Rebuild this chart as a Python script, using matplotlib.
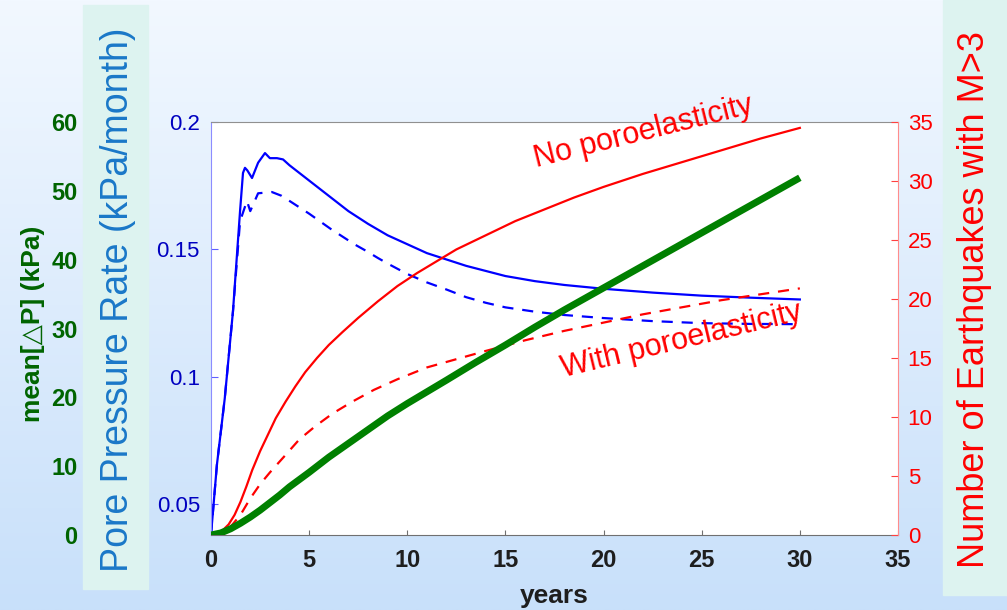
import numpy as np
import matplotlib
matplotlib.use("Agg")
import matplotlib.pyplot as plt
from matplotlib.patches import Rectangle

plt.rcParams['font.family'] = ['Liberation Sans', 'DejaVu Sans']

# pore pressure rate (kPa/month)
yr_rate_no = [0, 0.3, 0.7, 1.12, 1.48, 1.63, 1.73, 1.85, 2.09, 2.4, 2.75, 3.0, 3.36, 3.67, 4.0,
              4.5, 5.0, 6, 7, 8, 9, 10, 11, 12, 13, 14, 15, 16.5, 18, 20, 22.5, 25, 27.5, 30]
rate_no = [0.0378, 0.0653, 0.0914, 0.1257, 0.165, 0.180, 0.182, 0.181, 0.178, 0.184, 0.1878,
           0.1858, 0.1858, 0.1853, 0.183, 0.180, 0.177, 0.171, 0.165, 0.160, 0.1555, 0.152,
           0.1485, 0.146, 0.1435, 0.1415, 0.1395, 0.1375, 0.136, 0.1345, 0.133, 0.1318,
           0.131, 0.1303]
yr_rate_poro = [0, 0.3, 0.7, 1.12, 1.48, 1.83, 2.0, 2.4, 3.1, 3.6, 4.5, 5.0, 5.55, 6.1, 6.7,
                7.3, 7.9, 8.5, 9.0, 10, 11, 12, 13, 14, 15, 16.5, 18, 20, 22.5, 25, 27.5, 30]
rate_poro = [0.0378, 0.0653, 0.0914, 0.1257, 0.161, 0.169, 0.165, 0.172, 0.1725, 0.171, 0.1665,
             0.164, 0.161, 0.158, 0.155, 0.152, 0.1494, 0.1466, 0.1444, 0.1403, 0.137, 0.1342,
             0.1312, 0.129, 0.1272, 0.1255, 0.1242, 0.123, 0.1218, 0.121, 0.1207, 0.1206]

# cumulative number of M>3 earthquakes
yr_eq_no = [0, 0.3, 0.6, 0.9, 1.2, 1.5, 1.8, 2.1, 2.5, 2.9, 3.3, 3.8, 4.3, 4.8, 5.4, 6.0, 6.7,
            7.5, 8.5, 9.5, 10.5, 11.5, 12.5, 14, 15.5, 17, 18.5, 20, 22, 24, 26, 28, 30]
eq_no = [0, 0.1, 0.4, 0.9, 1.7, 2.8, 4.1, 5.5, 7.1, 8.5, 9.9, 11.3, 12.6, 13.8, 15.0, 16.1,
         17.2, 18.4, 19.8, 21.1, 22.2, 23.2, 24.2, 25.4, 26.6, 27.6, 28.6, 29.5, 30.6, 31.6,
         32.6, 33.6, 34.5]
yr_eq_poro = [0, 0.5, 1.0, 1.5, 2.0, 2.5, 3.0, 3.7, 4.5, 5.3, 6.2, 7.2, 8.3, 9.5, 11, 12.5,
              14, 16, 18, 20, 22, 24, 26, 28, 30]
eq_poro = [0, 0.15, 0.7, 1.7, 3.1, 4.3, 5.3, 6.6, 8.1, 9.2, 10.3, 11.3, 12.3, 13.2, 14.2, 14.9,
           15.6, 16.5, 17.3, 18.0, 18.7, 19.3, 19.9, 20.4, 20.9]

# mean pressure change (kPa)
yr_dp = [0, 0.5, 1, 1.5, 2, 2.5, 3, 3.5, 4, 5, 6, 7, 8, 9, 10, 11, 12, 13.5, 15, 16.5, 18,
         19.5, 21, 22.5, 24, 25.5, 27, 28.5, 30]
mean_dp = [0, 0.3, 0.9, 1.7, 2.6, 3.6, 4.7, 5.8, 7.0, 9.1, 11.3, 13.3, 15.3, 17.3, 19.1, 20.8,
           22.5, 25.1, 27.6, 30.2, 32.7, 35.1, 37.5, 39.9, 42.3, 44.7, 47.1, 49.5, 51.9]

x_ticks = [0, 5, 10, 15, 20, 25, 30, 35]
rate_ticks = [0.05, 0.1, 0.15, 0.2]
rate_labels = ['0.05', '0.1', '0.15', '0.2']
eq_ticks = [0, 5, 10, 15, 20, 25, 30, 35]
dp_ticks = [0, 10, 20, 30, 40, 50, 60]

W, H = 1007, 610
fig = plt.figure(figsize=(W / 100, H / 100), dpi=100)

# gradient background
bg = fig.add_axes([0, 0, 1, 1], zorder=-10)
top = np.array([242, 248, 255]) / 255
bot = np.array([200, 224, 250]) / 255
t = np.linspace(0, 1, 256)[:, None]
grad = top[None, None, :] * (1 - t[:, :, None]) + bot[None, None, :] * t[:, :, None]
bg.imshow(np.repeat(grad, 2, axis=1), aspect='auto', extent=[0, 1, 0, 1])
bg.axis('off')

# label boxes
box_col = '#ddf3f0'
fig.patches.append(Rectangle((83 / W, (H - 589) / H), 65 / W, 584 / H,
                             transform=fig.transFigure, color=box_col, zorder=-5))
fig.patches.append(Rectangle((943 / W, 15 / H), 64 / W, 595 / H,
                             transform=fig.transFigure, color=box_col, zorder=-5))

ax = fig.add_axes([211 / W, (H - 535) / H, 687 / W, 413 / H])
ax.set_facecolor('white')
ax.plot(yr_rate_no, rate_no, color='#0000ff', lw=1.6)
ax.plot(yr_rate_poro, rate_poro, color='#0000ff', lw=1.6, dashes=(5, 4))
ax.set_xlim(0, 35)
ax.set_ylim(0.0378, 0.2)
ax.set_xticks(x_ticks)
ax.set_yticks(rate_ticks)
ax.set_yticklabels(rate_labels)
ax.tick_params(axis='x', direction='in', length=3.6, color='#707070', pad=10,
               labelsize=17, labelcolor='#1e1e1e')
for lab in ax.get_xticklabels():
    lab.set_fontweight('bold')
ax.tick_params(axis='y', direction='in', length=5, color='#6060ff', pad=8,
               labelsize=16, labelcolor='#0000c0')
ax.spines['top'].set_color('#909090')
ax.spines['bottom'].set_color('#707070')
ax.spines['left'].set_color('#8c8cff')
ax.spines['right'].set_visible(False)

axr = ax.twinx()
axr.plot(yr_eq_no, eq_no, color='#ff0000', lw=1.6)
axr.plot(yr_eq_poro, eq_poro, color='#ff0000', lw=1.6, dashes=(5, 4))
axr.set_ylim(0, 35)
axr.set_yticks(eq_ticks)
axr.tick_params(axis='y', direction='in', length=5, color='#ff4040', pad=7,
                labelsize=16, labelcolor='#ff0000')
axr.spines['right'].set_color('#ff8c8c')
for s in ['top', 'bottom', 'left']:
    axr.spines[s].set_visible(False)

axg = ax.twinx()
axg.plot(yr_dp, mean_dp, color='#008000', lw=5, solid_capstyle='butt')
axg.set_ylim(0, 60)
axg.set_yticks(dp_ticks)
axg.yaxis.set_ticks_position('left')
axg.yaxis.set_label_position('left')
# spine offset is in points: 133 px from the main axis
axg.spines['left'].set_position(('outward', 92))
for s in ['top', 'bottom', 'left', 'right']:
    axg.spines[s].set_visible(False)
axg.tick_params(axis='y', length=0, pad=4, labelsize=17, labelcolor='#006400')
for lab in axg.get_yticklabels():
    lab.set_fontweight('bold')

# axis titles
fig.text(118 / W, (H - 300) / H, 'Pore Pressure Rate (kPa/month)', rotation=90,
         ha='center', va='center', fontsize=27, color='#1a78c8')
fig.text(975 / W, (H - 300) / H, 'Number of Earthquakes with M>3', rotation=90,
         ha='center', va='center', fontsize=26, color='#ff0000')
fig.text(33 / W, (H - 324) / H, 'mean[\u25b3P] (kPa)', rotation=90,
         ha='center', va='center', fontsize=19, fontweight='bold', color='#006400')
fig.text(554 / W, (H - 596) / H, 'years', ha='center', va='center',
         fontsize=19, fontweight='bold', color='#1e1e1e')

axg.text(0.632, 0.956, 'No poroelasticity', transform=ax.transAxes, rotation=14,
         rotation_mode='anchor', ha='center', va='baseline', fontsize=22, color='#ff0000',
         zorder=10)
axg.text(0.688, 0.453, 'With poroelasticity', transform=ax.transAxes, rotation=13.5,
         rotation_mode='anchor', ha='center', va='baseline', fontsize=22, color='#ff0000',
         zorder=10)

fig.savefig('out.png', dpi=100)
